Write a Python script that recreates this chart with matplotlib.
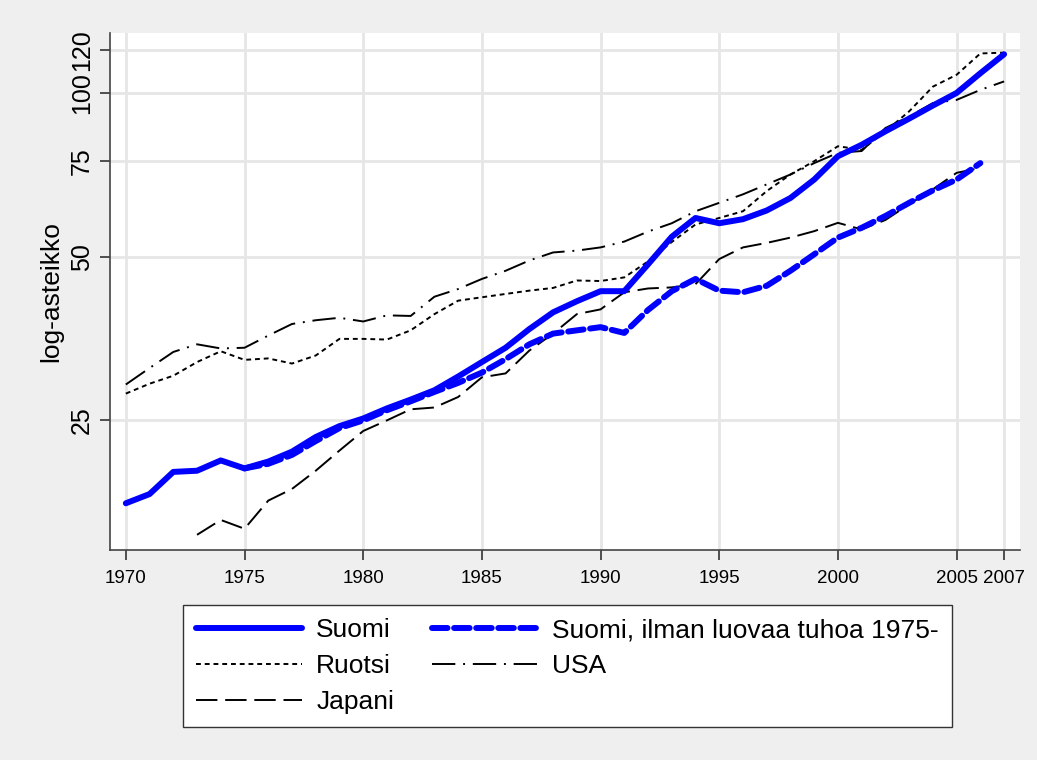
import matplotlib.pyplot as plt
import numpy as np

plt.rcParams['font.family'] = ['Liberation Sans', 'DejaVu Sans']

years = np.arange(1970, 2008)

suomi = [17.6, 18.3, 20.1, 20.2, 21.1, 20.4, 21.0, 21.9, 23.3, 24.4,
         25.2, 26.3, 27.3, 28.4, 30.1, 32.0, 34.0, 36.8, 39.5, 41.4,
         43.2, 43.2, 48.4, 54.4, 58.9, 57.6, 58.6, 60.8, 64.1, 69.3,
         76.5, 80.3, 85.0, 89.7, 94.8, 100.0, 108.7, 117.8]

# Suomi ilman luovaa tuhoa, 1975-2006
years_ilman = np.arange(1975, 2007)
ilman = [20.4, 20.8, 21.6, 22.9, 24.2, 25.0, 26.1, 27.1, 28.2, 29.3,
         30.6, 32.4, 34.5, 36.1, 36.6, 37.1, 36.2, 39.9, 43.2, 45.5,
         43.3, 43.0, 44.2, 47.1, 50.5, 54.2, 56.5, 59.4, 62.8, 66.2,
         69.3, 74.3]

ruotsi = [28.0, 29.2, 30.2, 32.0, 33.5, 32.3, 32.5, 31.8, 32.9, 35.3,
          35.3, 35.2, 36.6, 39.2, 41.5, 42.1, 42.7, 43.3, 43.8, 45.2,
          45.1, 45.8, 49.0, 53.2, 57.3, 58.9, 60.6, 66.0, 70.8, 74.9,
          79.8, 78.6, 85.0, 92.5, 102.7, 108.0, 118.2, 118.6]

usa = [29.1, 31.2, 33.4, 34.5, 33.9, 34.0, 35.8, 37.6, 38.2, 38.6,
       38.0, 39.0, 38.9, 42.2, 43.6, 45.5, 47.1, 49.2, 50.9, 51.3,
       52.0, 53.3, 55.6, 57.6, 60.6, 62.8, 65.1, 67.9, 70.8, 74.3,
       77.6, 78.2, 86.2, 90.5, 95.8, 97.1, 101.3, 105.0]

# Japani, 1973-2006
years_japani = np.arange(1973, 2007)
japani = [15.4, 16.4, 15.8, 17.8, 18.7, 20.2, 22.0, 23.9, 25.0, 26.2,
          26.4, 27.6, 30.0, 30.5, 33.6, 36.1, 39.2, 40.0, 43.0, 43.7,
          43.9, 44.5, 49.5, 52.0, 53.0, 54.2, 55.7, 57.7, 56.1, 58.4,
          62.4, 66.5, 71.3, 72.8]

xticks = [1970, 1975, 1980, 1985, 1990, 1995, 2000, 2005, 2007]
yticks = [25, 50, 75, 100, 120]

bg = '#efefef'
fig = plt.figure(figsize=(10.37, 7.6), dpi=100, facecolor=bg)
ax = fig.add_axes([0.106, 0.2763, 0.8776, 0.6803])
ax.set_facecolor('white')

ax.plot(years, suomi, color='#0000ff', lw=4.3, solid_capstyle='round',
        label='Suomi', zorder=5)
ax.plot(years_ilman, ilman, color='#0000ff', lw=4.3, dashes=(2.6, 1.1),
        dash_capstyle='round', label='Suomi, ilman luovaa tuhoa 1975-', zorder=5)
ax.plot(years, ruotsi, color='black', lw=1.4, dashes=(2.5, 2.0), label='Ruotsi')
ax.plot(years, usa, color='black', lw=1.4, dashes=(12, 4, 1, 4), label='USA')
ax.plot(years_japani, japani, color='black', lw=1.4, dashes=(11, 4), label='Japani')

ax.set_yscale('log')
ax.set_xlim(1969.33, 2007.67)
ax.set_ylim(14.44, 128.9)
ax.set_xticks(xticks)
ax.set_xticklabels([str(t) for t in xticks])
ax.set_yticks(yticks)
ax.set_yticklabels([str(t) for t in yticks], rotation=90, va='center')
ax.yaxis.set_minor_locator(plt.NullLocator())
ax.tick_params(axis='x', labelsize=13.5, length=7.5, width=1.2,
               color='#333333', pad=7)
ax.tick_params(axis='y', labelsize=18, length=7.5, width=1.2,
               color='#333333', pad=4)
ax.grid(True, color='#e6e6e6', lw=2)
ax.set_axisbelow(True)
for s in ['top', 'right']:
    ax.spines[s].set_visible(False)
for s in ['left', 'bottom']:
    ax.spines[s].set_color('#444444')
    ax.spines[s].set_linewidth(1.2)
ax.set_ylabel('log-asteikko', fontsize=19)
ax.yaxis.set_label_coords(-0.0516, 0.5)

h, l = ax.get_legend_handles_labels()
order = [0, 2, 4, 1, 3]
leg = fig.legend([h[i] for i in order], [l[i] for i in order], ncol=2,
                 loc='upper left', bbox_to_anchor=(183 / 1037, 1 - 605 / 760),
                 borderaxespad=0, fontsize=19, frameon=True, fancybox=False,
                 handlelength=4.0, handletextpad=0.55, columnspacing=1.45,
                 borderpad=0.5, labelspacing=0.45, framealpha=1,
                 facecolor='white')
leg.get_frame().set_edgecolor('#333333')
leg.get_frame().set_linewidth(1.0)

fig.savefig('out.png', dpi=100, facecolor=bg)
